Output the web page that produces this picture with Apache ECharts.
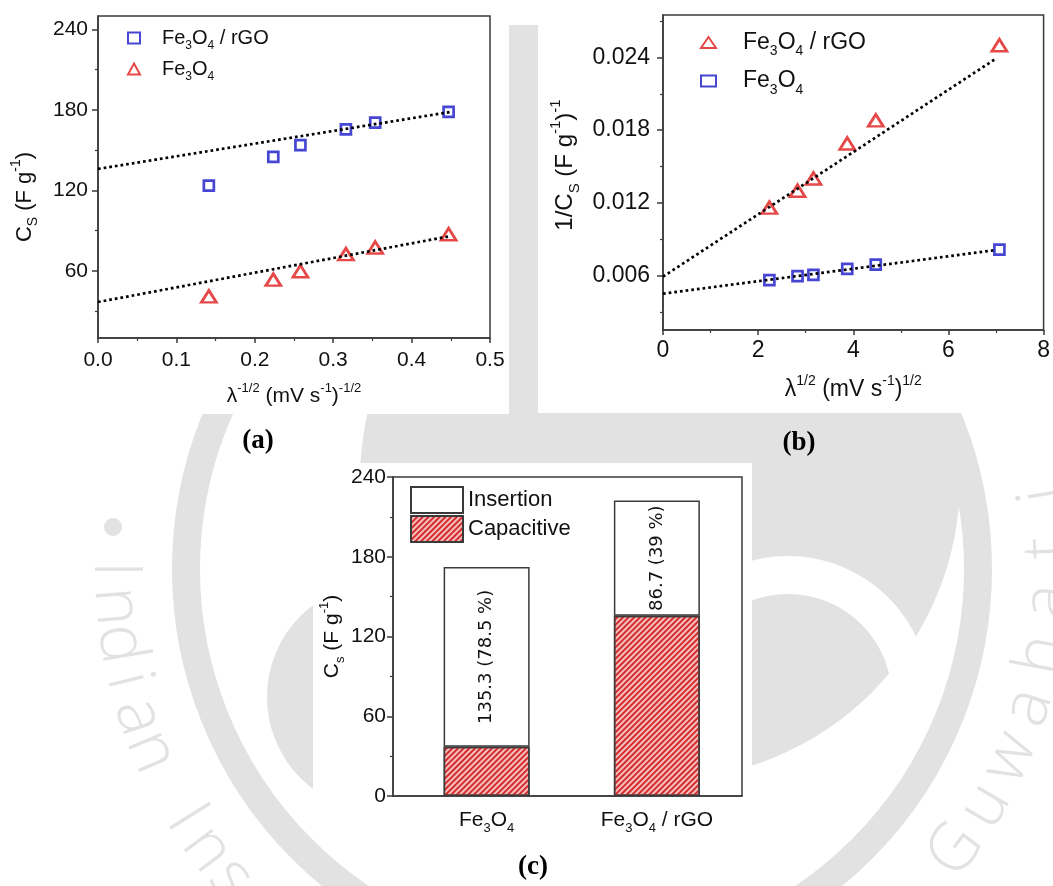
<!DOCTYPE html>
<html><head><meta charset="utf-8">
<script src="https://cdn.jsdelivr.net/npm/echarts@6/dist/echarts.min.js"></script>
<style>html,body{margin:0;padding:0;background:#fff}#c{width:1053px;height:886px}</style>
</head><body><div id="c"></div>
<script>
// ---------- data: panel (a) ----------
const aX = [0.1414, 0.2236, 0.2582, 0.3162, 0.3536, 0.4472];
const aRgo = [123.5, 145.0, 153.8, 165.5, 170.5, 178.5];
const aFe = [41.0, 53.5, 59.8, 72.5, 77.5, 87.3];
const aFitRgoX = [0, 0.45];
const aFitRgoY = [136.0, 178.5];
const aFitFeX = [0, 0.45];
const aFitFeY = [36.8, 86.0];
const aYTicks = [60, 120, 180, 240];
const aYMinor = [30, 90, 150, 210];
// ---------- data: panel (b) ----------
const bX = [2.236, 2.828, 3.162, 3.873, 4.472, 7.071];
const bRgo = [0.0116, 0.0130, 0.0140, 0.0169, 0.0188, 0.0250];
const bFe = [0.00561, 0.00594, 0.00605, 0.00655, 0.00690, 0.00814];
const bFitRgoX = [0, 7.0];
const bFitRgoY = [0.0059, 0.0239];
const bFitFeX = [0, 7.0];
const bFitFeY = [0.0045, 0.0081];
const bYTicks = [0.006, 0.012, 0.018, 0.024];
const bYMinor = [0.003, 0.009, 0.015, 0.021, 0.027];
// ---------- data: panel (c) ----------
const cCategories = ['Fe3O4', 'Fe3O4 / rGO'];
const cPos = [1, 2];
const cCapacitive = [37.0, 135.6];
const cInsertion = [135.3, 86.7];
const cInsLabels = ['135.3 (78.5 %)', '86.7 (39 %)'];

const F = '"Liberation Sans", Arial, sans-serif';
const BLUE = '#1818c8', RED = '#e01a1a', AX = '#3a3a3a';
function rich(fs) {
  const s = Math.round(fs * 0.62);
  return {
    n: {fontSize: fs, fontFamily: F, color: '#111', lineHeight: Math.round(fs * 1.4)},
    sub: {fontSize: s, fontFamily: F, color: '#111', verticalAlign: 'bottom', lineHeight: s},
    sup: {fontSize: s, fontFamily: F, color: '#111', verticalAlign: 'top', lineHeight: s}
  };
}
function chem(t) { // 'Fe3O4 / rGO' -> rich text with subscripts
  return t.replace(/([A-Za-z])(\d)/g, '$1\u0001$2\u0002').split(/(\u0001\d\u0002)/).filter(p => p).map(p =>
    p[0] === '\u0001' ? '{sub|' + p[1] + '}' : '{n|' + p + '}').join('');
}
const legendText = {
  a_rgo: chem('Fe3O4 / rGO'), a_fe: chem('Fe3O4'),
  b_rgo: chem('Fe3O4 / rGO'), b_fe: chem('Fe3O4'),
  Insertion: '{n|Insertion}', Capacitive: '{n|Capacitive}'
};
const pair = (xs, ys) => xs.map((x, i) => [x, ys[i]]);

const axLine = {show: true, lineStyle: {color: AX, width: 1.5}};
const noSplit = {show: false};

// ---------- watermark ----------
const WM = '#e2e2e2';
const graphic = [];
graphic.push({type: 'circle', z: -100, silent: true, shape: {cx: 660, cy: 480, r: 300}, style: {fill: WM}});
graphic.push({type: 'circle', z: -99, silent: true, shape: {cx: 788, cy: 698, r: 123}, style: {fill: null, stroke: '#fff', lineWidth: 38}});
graphic.push({type: 'circle', z: -98, silent: true, shape: {cx: 382, cy: 697, r: 115}, style: {fill: WM}});
graphic.push({type: 'rect', z: -98, silent: true, shape: {x: 505, y: 25, width: 40, height: 395}, style: {fill: WM}});
graphic.push({type: 'circle', z: -97, silent: true, shape: {cx: 582, cy: 569, r: 396}, style: {fill: null, stroke: WM, lineWidth: 28}});
graphic.push({type: 'circle', z: -97, silent: true, shape: {cx: 113, cy: 527, r: 9}, style: {fill: WM}});
function arcText(str, startDeg, stepDeg, R) {
  const cx = 582, cy = 569;
  for (let i = 0; i < str.length; i++) {
    const th = (startDeg + i * stepDeg) * Math.PI / 180;
    graphic.push({type: 'text', z: -96, silent: true,
      x: cx + R * Math.cos(th), y: cy - R * Math.sin(th), rotation: th + Math.PI / 2,
      style: {text: str[i], font: '300 66px "Open Sans", sans-serif', fill: WM, align: 'center', verticalAlign: 'middle'}});
  }
}
arcText('Indian Ins', 180, 4.6, 468);
arcText('Guwahati', -37, 6.6, 468);
// panel white backgrounds
graphic.push({type: 'rect', z: -50, silent: true, shape: {x: 0, y: 0, width: 509, height: 414}, style: {fill: '#fff'}});
graphic.push({type: 'rect', z: -50, silent: true, shape: {x: 538, y: 0, width: 515, height: 413}, style: {fill: '#fff'}});
graphic.push({type: 'rect', z: -50, silent: true, shape: {x: 313, y: 463, width: 439, height: 377}, style: {fill: '#fff'}});
// panel letters
[['(a)', 258, 441], ['(b)', 799, 443], ['(c)', 533, 867]].forEach(([t, x, y]) => graphic.push({
  type: 'text', x: x, y: y, z: 10,
  style: {text: t, font: 'bold 27px "Liberation Serif", "Times New Roman", serif', fill: '#000', align: 'center', verticalAlign: 'middle'}
}));

const option = {
  backgroundColor: '#fff',
  animation: false,
  graphic: graphic,
  grid: [
    {left: 98, top: 16, width: 392, height: 322, show: true, borderColor: AX, borderWidth: 1.5, backgroundColor: 'transparent'},
    {left: 663, top: 15, width: 384, height: 315, show: true, borderColor: AX, borderWidth: 1.5, backgroundColor: 'transparent'},
    {left: 393, top: 477, width: 349, height: 319, show: true, borderColor: AX, borderWidth: 1.5, backgroundColor: 'transparent'}
  ],
  legend: [
    {orient: 'vertical', left: 127, top: 28, itemWidth: 12, itemHeight: 11, itemGap: 7, padding: 0,
     data: [{name: 'a_rgo', icon: 'rect'}, {name: 'a_fe', icon: 'triangle'}],
     formatter: n => legendText[n], textStyle: {rich: rich(20), padding: [0, 0, 0, 17]}},
    {orient: 'vertical', left: 700, top: 31, itemWidth: 15, itemHeight: 11, itemGap: 11, padding: 0,
     data: [{name: 'b_rgo', icon: 'triangle'}, {name: 'b_fe', icon: 'rect'}],
     formatter: n => legendText[n], textStyle: {rich: rich(23), padding: [0, 0, 0, 22]}},
    {orient: 'vertical', left: 410, top: 486, itemWidth: 52, itemHeight: 26, itemGap: 1, padding: 0,
     data: [{name: 'Insertion', icon: 'rect'}, {name: 'Capacitive', icon: 'rect'}],
     formatter: n => legendText[n], textStyle: {rich: rich(22)}}
  ],
  xAxis: [
    {type: 'value', gridIndex: 0, min: 0, max: 0.5, interval: 0.1, axisLine: axLine,
     axisTick: {show: true, length: 5, lineStyle: {color: AX, width: 1.5}},
     minorTick: {show: true, splitNumber: 2, length: 3, lineStyle: {color: AX, width: 1.2}},
     axisLabel: {fontSize: 21, fontFamily: F, color: '#111', margin: 12, formatter: v => v.toFixed(1)},
     splitLine: noSplit,
     name: '{n|λ}{sup|-1/2}{n| (mV s}{sup|-1}{n|)}{sup|-1/2}', nameLocation: 'middle', nameGap: 44,
     nameTextStyle: {rich: rich(21)}},
    {type: 'value', gridIndex: 1, min: 0, max: 8, interval: 2, axisLine: axLine,
     axisTick: {show: true, length: 5, lineStyle: {color: AX, width: 1.5}},
     minorTick: {show: true, splitNumber: 2, length: 3, lineStyle: {color: AX, width: 1.2}},
     axisLabel: {fontSize: 23, fontFamily: F, color: '#111', margin: 9},
     splitLine: noSplit,
     name: '{n|λ}{sup|1/2}{n| (mV s}{sup|-1}{n|)}{sup|1/2}', nameLocation: 'middle', nameGap: 44,
     nameTextStyle: {rich: rich(23)}},
    {type: 'value', gridIndex: 2, min: 0.45, max: 2.5, axisLine: axLine, axisTick: {show: false},
     axisLabel: {customValues: cPos, margin: 10, formatter: v => chem(cCategories[cPos.indexOf(v)]), rich: rich(21)},
     splitLine: noSplit}
  ],
  yAxis: [
    {type: 'value', gridIndex: 0, position: 'left', min: 10, max: 250, axisLine: axLine,
     axisTick: {show: true, length: 6, customValues: aYTicks, lineStyle: {color: AX, width: 1.5}},
     axisLabel: {customValues: aYTicks, fontSize: 21, fontFamily: F, color: '#111', margin: 10},
     splitLine: noSplit,
     name: '{n|C}{sub|S}{n| (F g}{sup|-1}{n|)}', nameLocation: 'middle', nameGap: 58,
     nameTextStyle: {rich: rich(22), padding: [0, 40, 0, 0]}},
    {type: 'value', gridIndex: 0, position: 'left', offset: 0, min: 10, max: 250, axisLine: {show: false},
     axisTick: {show: true, length: 3, customValues: aYMinor, lineStyle: {color: AX, width: 1.2}},
     axisLabel: {show: false}, splitLine: noSplit},
    {type: 'value', gridIndex: 1, position: 'left', min: 0.0015, max: 0.0275, axisLine: axLine,
     axisTick: {show: true, length: 6, customValues: bYTicks, lineStyle: {color: AX, width: 1.5}},
     axisLabel: {customValues: bYTicks, fontSize: 23, fontFamily: F, color: '#111', margin: 13, formatter: v => v.toFixed(3)},
     splitLine: noSplit,
     name: '{n|1/C}{sub|S}{n| (F g}{sup|-1}{n|)}{sup|-1}', nameLocation: 'middle', nameGap: 81,
     nameTextStyle: {rich: rich(24), padding: [0, 0, 0, 15]}},
    {type: 'value', gridIndex: 1, position: 'left', offset: 0, min: 0.0015, max: 0.0275, axisLine: {show: false},
     axisTick: {show: true, length: 3, customValues: bYMinor, lineStyle: {color: AX, width: 1.2}},
     axisLabel: {show: false}, splitLine: noSplit},
    {type: 'value', gridIndex: 2, position: 'left', min: 0, max: 240, interval: 60, axisLine: axLine,
     axisTick: {show: true, length: 6, lineStyle: {color: AX, width: 1.5}},
     minorTick: {show: true, splitNumber: 2, length: 3, lineStyle: {color: AX, width: 1.2}},
     axisLabel: {fontSize: 21, fontFamily: F, color: '#111', margin: 7},
     splitLine: noSplit,
     name: '{n|C}{sub|s}{n| (F g}{sup|-1}{n|)}', nameLocation: 'middle', nameGap: 43,
     nameTextStyle: {rich: rich(21)}}
  ],
  series: [
    {name: 'a_rgo', type: 'scatter', xAxisIndex: 0, yAxisIndex: 0, symbol: 'rect', symbolSize: 10,
     itemStyle: {color: '#fff', borderColor: BLUE, borderWidth: 2.7}, data: pair(aX, aRgo), z: 3},
    {name: 'a_fe', type: 'scatter', xAxisIndex: 0, yAxisIndex: 0, symbol: 'triangle', symbolSize: [15, 12],
     itemStyle: {color: '#fff', borderColor: RED, borderWidth: 2.7}, data: pair(aX, aFe), z: 3},
    {name: 'a_fit1', type: 'line', xAxisIndex: 0, yAxisIndex: 0, symbol: 'none', data: pair(aFitRgoX, aFitRgoY),
     lineStyle: {color: '#000', width: 2.7, type: [2.7, 3]}, z: 5, silent: true},
    {name: 'a_fit2', type: 'line', xAxisIndex: 0, yAxisIndex: 0, symbol: 'none', data: pair(aFitFeX, aFitFeY),
     lineStyle: {color: '#000', width: 2.7, type: [2.7, 3]}, z: 5, silent: true},
    {name: 'b_rgo', type: 'scatter', xAxisIndex: 1, yAxisIndex: 2, symbol: 'triangle', symbolSize: [15, 12],
     itemStyle: {color: '#fff', borderColor: RED, borderWidth: 2.7}, data: pair(bX, bRgo), z: 3},
    {name: 'b_fe', type: 'scatter', xAxisIndex: 1, yAxisIndex: 2, symbol: 'rect', symbolSize: 10,
     itemStyle: {color: '#fff', borderColor: BLUE, borderWidth: 2.7}, data: pair(bX, bFe), z: 3},
    {name: 'b_fit1', type: 'line', xAxisIndex: 1, yAxisIndex: 2, symbol: 'none', data: pair(bFitRgoX, bFitRgoY),
     lineStyle: {color: '#000', width: 2.7, type: [2.7, 3]}, z: 5, silent: true},
    {name: 'b_fit2', type: 'line', xAxisIndex: 1, yAxisIndex: 2, symbol: 'none', data: pair(bFitFeX, bFitFeY),
     lineStyle: {color: '#000', width: 2.7, type: [2.7, 3]}, z: 5, silent: true},
    {name: 'Capacitive', type: 'bar', xAxisIndex: 2, yAxisIndex: 4, stack: 'c', barWidth: 86,
     encode: {x: 1, y: 0}, data: pair(cCapacitive, cPos),
     itemStyle: {color: '#f6c0c0', borderColor: AX, borderWidth: 1.5,
       decal: {symbol: 'rect', symbolSize: 1, dashArrayX: [1, 0], dashArrayY: [1.6, 1.6], rotation: -Math.PI / 4, color: '#d42c2c'}}},
    {name: 'Insertion', type: 'bar', xAxisIndex: 2, yAxisIndex: 4, stack: 'c', barWidth: 86,
     encode: {x: 1, y: 0}, data: pair(cInsertion, cPos),
     itemStyle: {color: '#fff', borderColor: AX, borderWidth: 1.5},
     label: {show: true, position: 'inside', rotate: 90, formatter: p => cInsLabels[p.dataIndex],
       fontFamily: '"DejaVu Sans", Verdana, sans-serif', fontSize: 18, color: '#111'}}
  ]
};
const chart = echarts.init(document.getElementById('c'));
chart.setOption(option);
</script></body></html>
